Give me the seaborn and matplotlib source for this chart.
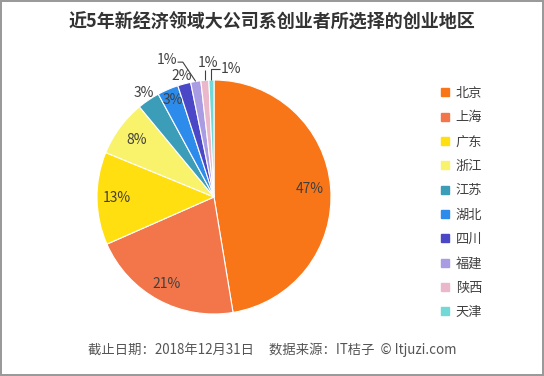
import numpy as np
import matplotlib
matplotlib.use("Agg")
import matplotlib.pyplot as plt
from matplotlib.lines import Line2D
import seaborn as sns

sns.set_theme(style="white")
plt.rcParams['font.family'] = ['Noto Sans CJK SC', 'DejaVu Sans']

# data (percent share)
regions = ["北京", "上海", "广东", "浙江", "江苏", "湖北", "四川", "福建", "陕西", "天津"]
shares = [47.4, 21.0, 12.8, 7.8, 3.1, 2.9, 1.8, 1.4, 1.1, 0.7]
colors = ["#F97618", "#F2764A", "#FFDF0F", "#F9F26B", "#3B9DB8",
          "#2D8CEB", "#4B48C8", "#A99CE3", "#EAB8CA", "#73D9D6"]

title = "近5年新经济领域大公司系创业者所选择的创业地区"
footer = "截止日期：2018年12月31日     数据来源：IT桔子  © Itjuzi.com"

fig = plt.figure(figsize=(5.44, 3.76), dpi=100)
fig.patch.set_facecolor("white")
fig.patch.set_edgecolor("#9a9a9a")
fig.patch.set_linewidth(1.5)

ax = fig.add_axes([97 / 544, 62 / 376, 234 / 544, 234 / 376])
wedges, _ = ax.pie(shares, colors=colors, startangle=90, counterclock=False,
                   wedgeprops=dict(edgecolor="white", linewidth=0.8))
ax.set_xlim(-1, 1)
ax.set_ylim(-1, 1)
ax.set_aspect("equal")

# label radius for each slice (fraction of pie radius)
label_r = [0.82, 0.85, 0.83, 0.82, 1.07, 0.9, 1.07]
txt_kw = dict(ha="center", va="center", fontsize=10, color="#404040")
for w, v, r in zip(wedges, shares, label_r):
    ang = np.deg2rad((w.theta1 + w.theta2) / 2)
    ax.text(r * np.cos(ang), r * np.sin(ang), f"{round(v)}%", **txt_kw)

# small slices: leader lines
line_kw = dict(color="#404040", lw=0.8, clip_on=False, solid_capstyle="butt")
for w, v, kind in zip(wedges[7:], shares[7:], ["fj", "sx", "tj"]):
    ang = np.deg2rad((w.theta1 + w.theta2) / 2)
    x0, y0 = np.cos(ang), np.sin(ang)
    if kind == "fj":
        ax.plot([x0, x0 - 0.11, x0 - 0.155], [y0, y0 + 0.165, y0 + 0.165], **line_kw)
        ax.text(x0 - 0.16, y0 + 0.18, f"{round(v)}%", ha="right",
                va="center", fontsize=10, color="#404040")
    elif kind == "sx":
        ax.plot([x0, x0], [y0, y0 + 0.09], **line_kw)
        ax.text(x0 + 0.03, y0 + 0.15, f"{round(v)}%", **txt_kw)
    else:
        ax.plot([x0, x0, x0 + 0.07], [y0, y0 + 0.09, y0 + 0.09], **line_kw)
        ax.text(x0 + 0.08, y0 + 0.09, f"{round(v)}%", ha="left",
                va="center", fontsize=10, color="#404040")

fig.text(0.5, 0.941, title, ha="center", va="center", fontsize=13,
         fontweight="bold", color="#333333")
fig.text(0.5, 0.069, footer, ha="center", va="center", fontsize=9.6,
         color="#555555")

handles = [Line2D([], [], marker="s", linestyle="none", markersize=6,
                  markerfacecolor=c, markeredgecolor=c) for c in colors]
fig.legend(handles, regions, loc="upper left", bbox_to_anchor=(428 / 544, 1 - 75 / 376),
           frameon=False, fontsize=9.5, labelspacing=0.86, handlelength=0.8,
           handletextpad=0.4, labelcolor="#404040")

fig.savefig("out.png", dpi=100, facecolor=fig.get_facecolor(),
            edgecolor=fig.get_edgecolor())
